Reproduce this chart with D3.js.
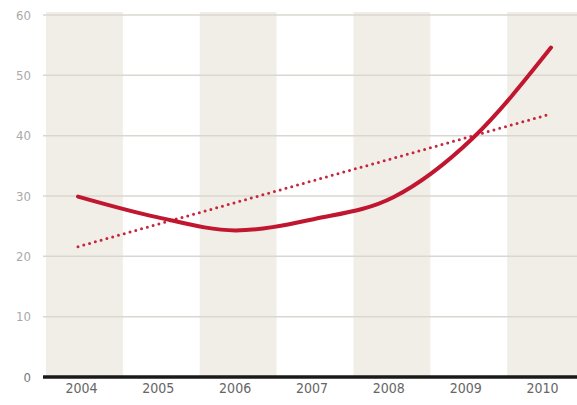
<!DOCTYPE html>
<html>
<head>
<meta charset="utf-8">
<script src="https://cdn.jsdelivr.net/npm/d3@7"></script>
<style>
    body { margin: 0; background: #fff; }
    svg text { font-family: "Liberation Sans Narrow", "Arial Narrow", "DejaVu Sans Condensed", sans-serif; }
</style>
</head>
<body>
<svg id="chart" width="577" height="405"></svg>
<script>
// data
const years = ['2004', '2005', '2006', '2007', '2008', '2009', '2010'];
const values = [29.9, 26.5, 24.3, 26.2, 29.8, 39.5, 54.6];
const trendYears = ['2004', '2010'];
const trendValues = [21.6, 43.6];
const yTicks = [0, 10, 20, 30, 40, 50, 60];
const shadedYears = ['2004', '2006', '2008', '2010'];

const svg = d3.select('#chart');
const width = 577, height = 405;

const x = d3.scaleBand().domain(years).range([46, 584]);
const xp = d3.scalePoint().domain(years).range([78, 551]);
const y = d3.scaleLinear().domain([0, 60]).range([377, 15]);

// alternating column bands
svg.append('g')
    .selectAll('rect')
    .data(shadedYears)
    .join('rect')
    .attr('x', d => x(d))
    .attr('y', y(60) - 3)
    .attr('width', x.bandwidth())
    .attr('height', y(0) - y(60) + 3)
    .attr('fill', '#f1eee7');

// gridlines
svg.append('g')
    .selectAll('line')
    .data(yTicks.filter(d => d > 0))
    .join('line')
    .attr('x1', 43)
    .attr('x2', width)
    .attr('y1', d => y(d))
    .attr('y2', d => y(d))
    .attr('stroke', '#d9d7d1')
    .attr('stroke-width', 1.5);

// y labels
svg.append('g')
    .selectAll('text')
    .data(yTicks)
    .join('text')
    .attr('x', 31)
    .attr('y', d => y(d))
    .attr('dy', '0.35em')
    .attr('text-anchor', 'end')
    .attr('font-size', 13)
    .attr('fill', d => d === 0 ? '#777' : '#aaa')
    .text(d => d);

// baseline
svg.append('line')
    .attr('x1', 43)
    .attr('x2', width)
    .attr('y1', y(0))
    .attr('y2', y(0))
    .attr('stroke', '#1a1a1a')
    .attr('stroke-width', 3.5);

// x labels
svg.append('g')
    .selectAll('text')
    .data(years)
    .join('text')
    .attr('x', d => x(d) + x.bandwidth() / 2 - 3)
    .attr('y', 393)
    .attr('text-anchor', 'middle')
    .attr('font-size', 14)
    .attr('fill', '#666')
    .text(d => d);

// trend line (dotted)
const trend = trendYears.map((d, i) => ({ year: d, value: trendValues[i] }));
svg.append('path')
    .datum(trend)
    .attr('d', d3.line().x(d => xp(d.year)).y(d => y(d.value)))
    .attr('fill', 'none')
    .attr('stroke', '#c4273d')
    .attr('stroke-width', 3)
    .attr('stroke-linecap', 'round')
    .attr('stroke-dasharray', '0 6');

// main line
const series = years.map((d, i) => ({ year: d, value: values[i] }));
svg.append('path')
    .datum(series)
    .attr('d', d3.line().x(d => xp(d.year)).y(d => y(d.value)).curve(d3.curveMonotoneX))
    .attr('fill', 'none')
    .attr('stroke', '#c0162f')
    .attr('stroke-width', 4)
    .attr('stroke-linecap', 'round');
</script>
</body>
</html>
